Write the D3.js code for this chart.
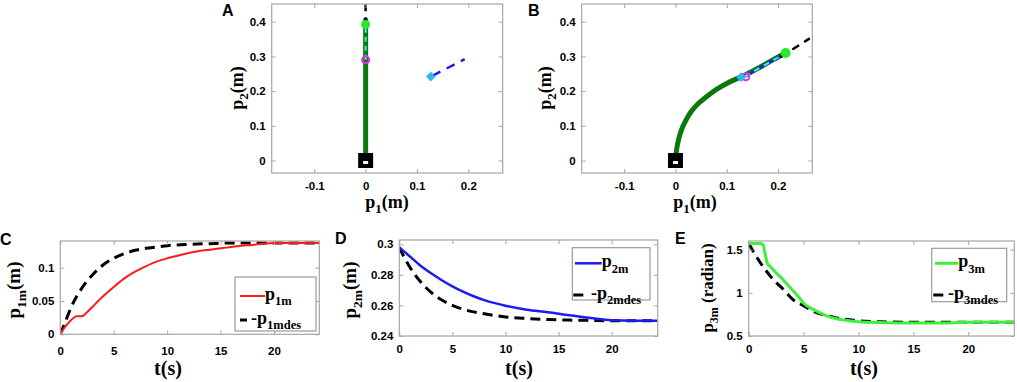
<!DOCTYPE html>
<html>
<head>
<meta charset="utf-8">
<script src="https://cdn.jsdelivr.net/npm/d3@7"></script>
<style>
  body { margin: 0; background: #fff; }
  svg { display: block; }
</style>
</head>
<body>
<div id="chart"></div>
<script>
// ---- data ----
// panel A: straight path and markers
const pathA_p1 = [0, 0];
const pathA_p2 = [0, 0.41];
const desA_p1 = [0, 0];
const desA_p2 = [0.39, 0.45];
const cyanA_p1 = [0, 0];
const cyanA_p2 = [0.29, 0.39];
const blueA_p1 = [0.13, 0.193];
const blueA_p2 = [0.244, 0.292];
const startA = [0, 0];
const goalA = [0, 0.392];
const magA = [0, 0.29];
const diamA = [0.127, 0.242];

// panel B: curved path and markers
const pathB_p1 = [0, 0.002, 0.006, 0.012, 0.02, 0.03, 0.045, 0.06, 0.08, 0.1, 0.12, 0.13, 0.15, 0.17, 0.19, 0.215];
const pathB_p2 = [0, 0.03, 0.06, 0.09, 0.115, 0.14, 0.165, 0.183, 0.205, 0.222, 0.236, 0.242, 0.257, 0.273, 0.29, 0.31];
const desB_p1 = [0.205, 0.262];
const desB_p2 = [0.298, 0.352];
const blueB_p1 = [0.135, 0.21];
const blueB_p2 = [0.242, 0.305];
const startB = [0, 0];
const goalB = [0.215, 0.31];
const magB = [0.137, 0.241];
const diamB = [0.128, 0.24];

// panel C
const tC_m = [0, 0.3, 0.7, 1.2, 1.5, 2.0, 2.5, 3, 4, 5, 6, 7, 8, 9, 10, 11, 12, 13, 14, 15, 16, 17, 18, 19, 20, 21, 22, 23, 24.3];
const p1m = [0, 0.008, 0.016, 0.024, 0.027, 0.027, 0.033, 0.041, 0.057, 0.071, 0.084, 0.094, 0.102, 0.109, 0.114, 0.118, 0.122, 0.125, 0.127, 0.129, 0.131, 0.133, 0.134, 0.136, 0.137, 0.137, 0.137, 0.137, 0.137];
const tC_d = [0, 0.5, 1, 1.5, 2, 3, 4, 5, 6, 7, 8, 9, 10, 12, 14, 16, 18, 20, 22, 24.3];
const p1mdes = [0, 0.02, 0.04, 0.056, 0.069, 0.089, 0.104, 0.114, 0.121, 0.126, 0.129, 0.131, 0.133, 0.135, 0.136, 0.137, 0.137, 0.137, 0.137, 0.137];

// panel D
const tD_m = [0, 1, 2, 3, 4, 5, 6, 7, 8, 9, 10, 12, 14, 16, 18, 20, 22, 24.4];
const p2m = [0.298, 0.292, 0.286, 0.281, 0.2765, 0.2725, 0.269, 0.266, 0.2635, 0.2615, 0.2598, 0.2572, 0.2555, 0.2535, 0.2518, 0.2503, 0.25, 0.25];
const tD_d = [0, 0.5, 1, 2, 3, 4, 5, 6, 7, 8, 10, 12, 14, 16, 18, 20, 24.4];
const p2mdes = [0.298, 0.291, 0.285, 0.2755, 0.2685, 0.2635, 0.26, 0.2575, 0.2558, 0.2545, 0.2525, 0.2515, 0.2508, 0.2504, 0.2502, 0.25, 0.25];

// panel E
const tE_m = [0, 0.5, 1.0, 1.3, 1.5, 1.7, 2.0, 2.5, 3, 3.5, 4, 4.5, 5, 6, 7, 8, 9, 10, 12, 14, 16, 18, 20, 22, 24.3];
const p3m = [1.571, 1.571, 1.571, 1.56, 1.45, 1.34, 1.30, 1.23, 1.17, 1.10, 1.03, 0.96, 0.88, 0.80, 0.74, 0.70, 0.68, 0.665, 0.655, 0.65, 0.65, 0.65, 0.66, 0.66, 0.66];
const tE_d = [0, 0.5, 1, 1.5, 2, 2.5, 3, 4, 5, 6, 7, 8, 9, 10, 12, 14, 16, 18, 20, 24.3];
const p3mdes = [1.571, 1.46, 1.36, 1.27, 1.19, 1.12, 1.06, 0.925, 0.85, 0.78, 0.74, 0.71, 0.69, 0.675, 0.665, 0.66, 0.66, 0.66, 0.66, 0.66];

// tick labels
const xticksAB = [-0.1, 0, 0.1, 0.2];
const yticksAB = [0, 0.1, 0.2, 0.3, 0.4];
const xticksT = [0, 5, 10, 15, 20];
const yticksC = [0, 0.05, 0.1];
const yticksD = [0.24, 0.26, 0.28, 0.3];
const yticksE = [0.5, 1, 1.5];

// ---- drawing ----
const svg = d3.select("#chart").append("svg")
    .attr("width", 1017)
    .attr("height", 382);

const frameColor = "#a6a6a6";
const sans = "'Liberation Sans', Arial, sans-serif";
const serif = "'Liberation Serif', 'Times New Roman', serif";
const zip = (a, b) => a.map((v, i) => [v, b[i]]);

let clipId = 0;
function panel(s) {
    const x = d3.scaleLinear().domain(s.xd).range([s.x0, s.x1]);
    const y = d3.scaleLinear().domain(s.yd).range([s.y1, s.y0]);
    const id = "clip" + (clipId++);
    svg.append("clipPath").attr("id", id)
        .append("rect")
        .attr("x", s.x0).attr("y", s.y0)
        .attr("width", s.x1 - s.x0).attr("height", s.y1 - s.y0);
    const g = svg.append("g");
    const plot = g.append("g").attr("clip-path", `url(#${id})`);
    return {g, plot, x, y, s};
}

function axes(p) {
    const {g, x, y, s} = p;
    const fmt = d => String(d);
    const style = a => {
        a.select(".domain").remove();
        a.selectAll("line").attr("stroke", frameColor);
        a.selectAll("text").attr("fill", "#000")
            .attr("font-family", sans).attr("font-weight", "bold").attr("font-size", 11.5);
    };
    g.append("g").attr("transform", `translate(0,${s.y1})`)
        .call(d3.axisBottom(x).tickValues(s.xt).tickSizeInner(-4).tickSizeOuter(0)
            .tickPadding(s.xpad).tickFormat(fmt))
        .call(style);
    g.append("g").attr("transform", `translate(0,${s.y0})`)
        .call(d3.axisTop(x).tickValues(s.xt).tickSizeInner(-4).tickSizeOuter(0).tickFormat(""))
        .call(style);
    g.append("g").attr("transform", `translate(${s.x0},0)`)
        .call(d3.axisLeft(y).tickValues(s.yt).tickSizeInner(-4).tickSizeOuter(0)
            .tickPadding(6).tickFormat(fmt))
        .call(style);
    g.append("g").attr("transform", `translate(${s.x1},0)`)
        .call(d3.axisRight(y).tickValues(s.yt).tickSizeInner(-4).tickSizeOuter(0).tickFormat(""))
        .call(style);
    g.append("rect")
        .attr("x", s.x0).attr("y", s.y0)
        .attr("width", s.x1 - s.x0).attr("height", s.y1 - s.y0)
        .attr("fill", "none").attr("stroke", frameColor).attr("stroke-width", 1.2);
}

// text with a subscript: base, sub, tail
function subText(t, base, sub, tail, size, subSize) {
    t.attr("font-family", serif).attr("font-weight", "bold").attr("font-size", size).attr("fill", "#000");
    t.append("tspan").text(base);
    if (sub) t.append("tspan").attr("font-size", subSize).attr("dy", size * 0.3).text(sub);
    if (tail) t.append("tspan").attr("dy", -size * 0.3).text(tail);
    return t;
}

function letter(txt, x, y) {
    svg.append("text").attr("x", x).attr("y", y)
        .attr("font-family", sans).attr("font-weight", "bold").attr("font-size", 16)
        .text(txt);
}

function line(plot, xs, ys, x, y, color, width, dash, curve) {
    plot.append("path")
        .datum(zip(xs, ys))
        .attr("d", d3.line().x(d => x(d[0])).y(d => y(d[1])).curve(curve || d3.curveLinear))
        .attr("fill", "none")
        .attr("stroke", color)
        .attr("stroke-width", width)
        .attr("stroke-dasharray", dash || null);
}

function startMark(plot, pt, x, y) {
    const cx = x(pt[0]), cy = y(pt[1]);
    plot.append("rect").attr("x", cx - 7.5).attr("y", cy - 7.5).attr("width", 15).attr("height", 15).attr("fill", "#000");
    plot.append("rect").attr("x", cx - 2.5).attr("y", cy + 0.5).attr("width", 5).attr("height", 3).attr("fill", "#fff");
}

function circle(plot, pt, x, y, fill, stroke, r) {
    plot.append("circle").attr("cx", x(pt[0])).attr("cy", y(pt[1])).attr("r", r)
        .attr("fill", fill).attr("stroke", stroke).attr("stroke-width", 2);
}

function diamond(plot, pt, x, y, color) {
    plot.append("path")
        .attr("d", d3.symbol().type(d3.symbolDiamond2).size(60)())
        .attr("transform", `translate(${x(pt[0])},${y(pt[1])})`)
        .attr("fill", color);
}

const darkGreen = "#0b780b";
const brightGreen = "#2be82b";
const cyan = "#3ff0f0";
const lightBlue = "#2ab8f0";
const blue = "#1c1ce6";

// ---- panel A ----
const A = panel({x0: 271.7, x1: 502.7, y0: 4, y1: 173, xd: [-0.183, 0.267], yd: [-0.036, 0.451],
    xt: xticksAB, yt: yticksAB, xpad: 8.5});
line(A.plot, pathA_p1, pathA_p2, A.x, A.y, darkGreen, 5);
line(A.plot, desA_p1, desA_p2, A.x, A.y, "#000", 2.5, "8,6");
line(A.plot, cyanA_p1, cyanA_p2, A.x, A.y, cyan, 2, "5,4");
line(A.plot, blueA_p1, blueA_p2, A.x, A.y, blue, 2.5, "9,7");
startMark(A.plot, startA, A.x, A.y);
circle(A.plot, magA, A.x, A.y, "none", "#ee22ee", 3.5);
circle(A.plot, goalA, A.x, A.y, brightGreen, brightGreen, 3.5);
diamond(A.plot, diamA, A.x, A.y, lightBlue);
axes(A);
letter("A", 222, 16);
subText(svg.append("text").attr("x", 387).attr("y", 208).attr("text-anchor", "middle"), "p", "1", "(m)", 18, 13);
subText(svg.append("text").attr("transform", "translate(243,88) rotate(-90)").attr("text-anchor", "middle"), "p", "2", "(m)", 18, 13);

// ---- panel B ----
const B = panel({x0: 581.7, x1: 812.3, y0: 4, y1: 173, xd: [-0.183, 0.267], yd: [-0.036, 0.451],
    xt: xticksAB, yt: yticksAB, xpad: 8.5});
line(B.plot, pathB_p1, pathB_p2, B.x, B.y, darkGreen, 5, null, d3.curveCatmullRom);
line(B.plot, blueB_p1, blueB_p2, B.x, B.y, blue, 2.5);
line(B.plot, blueB_p1, blueB_p2, B.x, B.y, cyan, 2, "6,5");
line(B.plot, desB_p1, desB_p2, B.x, B.y, "#000", 2.5, "8,6");
startMark(B.plot, startB, B.x, B.y);
circle(B.plot, magB, B.x, B.y, "none", "#ee22ee", 3.5);
circle(B.plot, goalB, B.x, B.y, brightGreen, brightGreen, 4);
diamond(B.plot, diamB, B.x, B.y, lightBlue);
axes(B);
letter("B", 528, 16);
subText(svg.append("text").attr("x", 695).attr("y", 208).attr("text-anchor", "middle"), "p", "1", "(m)", 18, 13);
subText(svg.append("text").attr("transform", "translate(551,88) rotate(-90)").attr("text-anchor", "middle"), "p", "2", "(m)", 18, 13);

// ---- legends ----
function legend(box, entries) {
    svg.append("rect")
        .attr("x", box[0]).attr("y", box[1]).attr("width", box[2]).attr("height", box[3])
        .attr("fill", "#fff").attr("stroke", "#9a9a9a").attr("stroke-width", 1.2);
    entries.forEach(e => {
        svg.append("line")
            .attr("x1", e.lx[0]).attr("x2", e.lx[1]).attr("y1", e.y).attr("y2", e.y)
            .attr("stroke", e.color).attr("stroke-width", e.w);
        subText(svg.append("text").attr("x", e.tx).attr("y", e.y + 4), e.base, e.sub, null, 18, 12.5);
    });
}

// ---- panel C ----
const C = panel({x0: 60.3, x1: 319.3, y0: 241, y1: 334.3, xd: [0, 24.24], yd: [0, 0.14],
    xt: xticksT, yt: yticksC, xpad: 12.5});
line(C.plot, tC_d, p1mdes, C.x, C.y, "#000", 3, "10,6", d3.curveMonotoneX);
line(C.plot, tC_m, p1m, C.x, C.y, "#ff1a1a", 2, null, d3.curveMonotoneX);
axes(C);
letter("C", 0, 245);
legend([235, 277, 81, 54], [
    {lx: [240, 265], y: 296, color: "#ff1a1a", w: 2, tx: 265, base: "p", sub: "1m"},
    {lx: [240, 247], y: 320, color: "#000", w: 3, tx: 251, base: "-p", sub: "1mdes"}
]);
subText(svg.append("text").attr("x", 168).attr("y", 375).attr("text-anchor", "middle"), "t(s)", null, null, 20, 12);
subText(svg.append("text").attr("transform", "translate(20,290) rotate(-90)").attr("text-anchor", "middle"), "p", "1m", "(m)", 19, 13.5);

// ---- panel D ----
const D = panel({x0: 399.3, x1: 657.7, y0: 240, y1: 336, xd: [0, 24.33], yd: [0.24, 0.3028],
    xt: xticksT, yt: yticksD, xpad: 9});
line(D.plot, tD_d, p2mdes, D.x, D.y, "#000", 3, "10,6", d3.curveMonotoneX);
line(D.plot, tD_m, p2m, D.x, D.y, "#1c1cf0", 2.5, null, d3.curveMonotoneX);
axes(D);
letter("D", 335, 244);
legend([572.3, 247.7, 77.7, 52.3], [
    {lx: [575, 601.7], y: 263.3, color: "#1c1cf0", w: 2.5, tx: 601.7, base: "p", sub: "2m"},
    {lx: [573.3, 583.3], y: 295, color: "#000", w: 3, tx: 591, base: "-p", sub: "2mdes"}
]);
subText(svg.append("text").attr("x", 519).attr("y", 375).attr("text-anchor", "middle"), "t(s)", null, null, 20, 12);
subText(svg.append("text").attr("transform", "translate(356,290) rotate(-90)").attr("text-anchor", "middle"), "p", "2m", "(m)", 19, 13.5);

// ---- panel E ----
const E = panel({x0: 748.7, x1: 1014.3, y0: 241, y1: 336, xd: [0, 24.19], yd: [0.5, 1.6],
    xt: xticksT, yt: yticksE, xpad: 9});
line(E.plot, tE_d, p3mdes, E.x, E.y, "#000", 3, "10,6", d3.curveMonotoneX);
line(E.plot, tE_m, p3m, E.x, E.y, "#3df03d", 3, null, d3.curveMonotoneX);
axes(E);
letter("E", 675, 244);
legend([931.7, 248.3, 75, 53.4], [
    {lx: [935, 958.3], y: 263.3, color: "#3df03d", w: 3, tx: 958.3, base: "p", sub: "3m"},
    {lx: [933.3, 943.3], y: 295, color: "#000", w: 3, tx: 948, base: "-p", sub: "3mdes"}
]);
subText(svg.append("text").attr("x", 864).attr("y", 375).attr("text-anchor", "middle"), "t(s)", null, null, 20, 12);
subText(svg.append("text").attr("transform", "translate(713,288) rotate(-90)").attr("text-anchor", "middle"), "p", "3m", " (radian)", 17, 12);
</script>
</body>
</html>
